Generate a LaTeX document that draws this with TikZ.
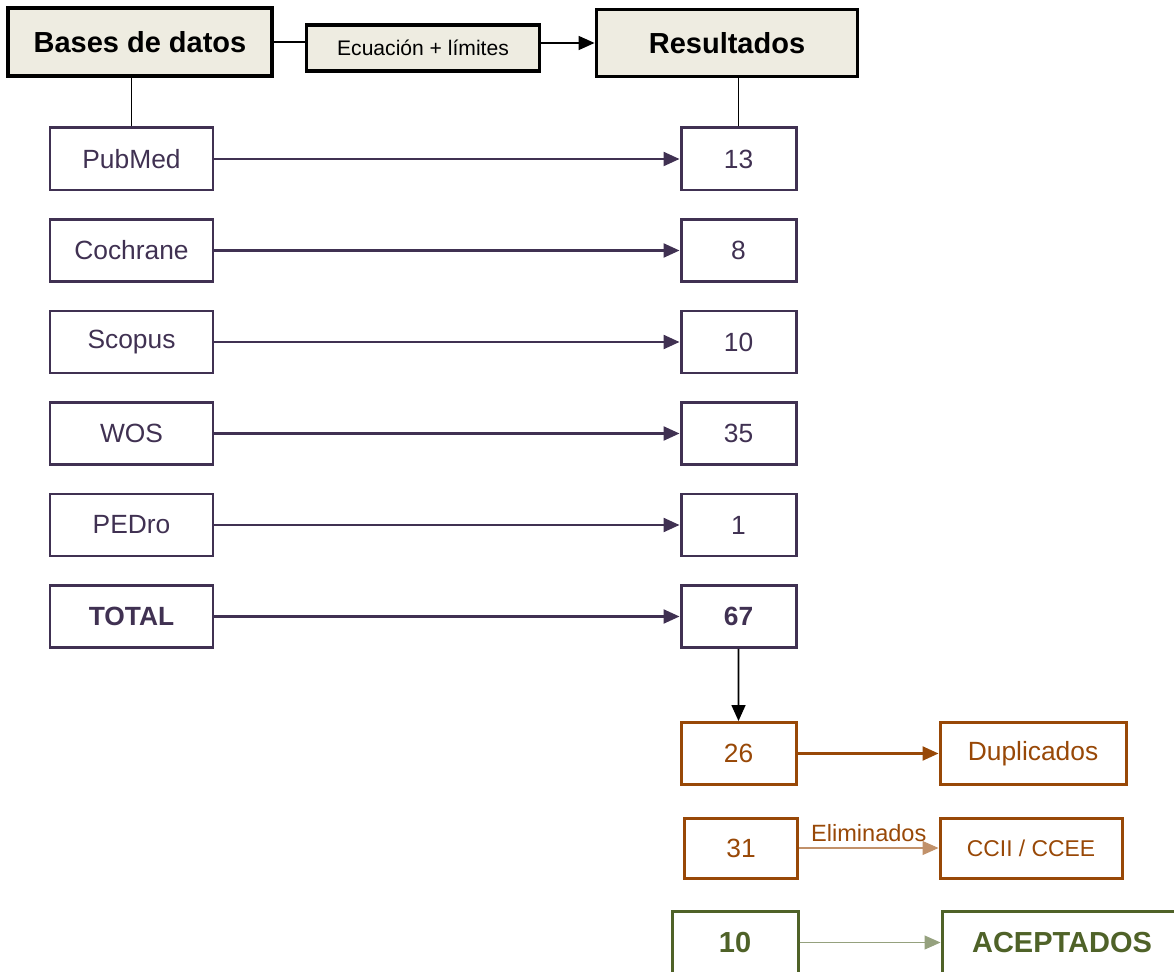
\documentclass[tikz,border=0pt]{standalone}
\usepackage{fontspec}
\setmainfont{Liberation Sans}
\usepackage{tikz}
\usetikzlibrary{arrows.meta,positioning}
\definecolor{morado}{HTML}{403152}
\definecolor{naranja}{HTML}{984807}
\definecolor{oliva}{HTML}{4F6228}
\definecolor{beige}{HTML}{EEECE1}

\begin{document}
\begin{tikzpicture}[top block/.style={draw=black, fill=beige, line width=2.2pt, rectangle, align=center, font=\fontsize{16.5}{19}\selectfont\bfseries}, db block/.style={draw=morado, line width=1.7pt, rectangle, minimum width=3.26cm, minimum height=1.24cm, text=morado, font=\fontsize{15}{18}\selectfont}, num block/.style={db block, minimum width=2.30cm}, el block/.style={draw=naranja, line width=1.7pt, rectangle, minimum height=1.24cm, text=naranja, font=\fontsize{15}{18}\selectfont}, ok block/.style={draw=oliva, line width=1.7pt, rectangle, minimum height=1.24cm, text=oliva, font=\fontsize{16.5}{19}\selectfont\bfseries}, flecha/.style={-{Triangle[length=0.32cm,width=0.28cm]}, line width=1.3pt}, node distance=1.83cm]
    \useasboundingbox (0,0) rectangle (23.48,-19.44);
    \clip (0,0) rectangle (23.48,-19.44);

    \node[top block, minimum width=5.28cm, minimum height=1.36cm] (bases) at (2.80,-0.84) {Bases de datos};
    \node[top block, minimum width=4.66cm, minimum height=0.92cm, font=\fontsize{12}{14}\selectfont] (ecu) at (8.46,-0.96) {Ecuación + límites};
    \node[top block, minimum width=5.22cm, minimum height=1.34cm] (res) at (14.54,-0.86) {Resultados};

    \node[db block] (pub) at (2.63,-3.18) {PubMed};
    \node[db block, below of=pub] (coch) {Cochrane};
    \node[db block, below of=coch] (scop) {Scopus};
    \node[db block, below of=scop] (wos) {WOS};
    \node[db block, below of=wos] (pedro) {PEDro};
    \node[db block, below of=pedro, font=\fontsize{15}{18}\selectfont\bfseries] (total) {TOTAL};

    \node[num block, right of=pub, node distance=12.14cm] (n13) {13};
    \node[num block, right of=coch, node distance=12.14cm] (n8) {8};
    \node[num block, right of=scop, node distance=12.14cm] (n10a) {10};
    \node[num block, right of=wos, node distance=12.14cm] (n35) {35};
    \node[num block, right of=pedro, node distance=12.14cm] (n1) {1};
    \node[num block, right of=total, node distance=12.14cm, font=\fontsize{15}{18}\selectfont\bfseries] (n67) {67};

    \node[el block, minimum width=2.30cm] (n26) at (14.77,-15.07) {26};
    \node[el block, minimum width=3.72cm] (dup) at (20.66,-15.07) {Duplicados};
    \node[el block, minimum width=2.26cm, minimum height=1.20cm] (n31) at (14.82,-16.96) {31};
    \node[el block, minimum width=3.64cm, minimum height=1.20cm, font=\fontsize{13}{16}\selectfont] (cc) at (20.62,-16.96) {CCII / CCEE};
    \node[ok block, minimum width=2.52cm] (n10) at (14.70,-18.85) {10};
    \node[ok block, minimum width=4.80cm] (acep) at (21.24,-18.85) {ACEPTADOS};

    \draw[line width=0.9pt] (bases.east) -- (bases.east -| ecu.west);
    \draw[flecha, line width=0.9pt] (ecu.east |- res.west) -- (res.west);
    \draw[line width=0.9pt] (pub.north) -- (pub.north |- bases.south);
    \draw[line width=0.9pt] (n13.north) -- (n13.north |- res.south);

    \draw[flecha, morado] (pub) -- (n13);
    \draw[flecha, morado] (coch) -- (n8);
    \draw[flecha, morado] (scop) -- (n10a);
    \draw[flecha, morado] (wos) -- (n35);
    \draw[flecha, morado] (pedro) -- (n1);
    \draw[flecha, morado] (total) -- (n67);

    \draw[flecha, line width=0.9pt] (n67) -- (n26);
    \draw[flecha, naranja] (n26) -- (dup);
    \draw[flecha, naranja!60, line width=0.6pt] (n31) -- node[above, text=naranja, font=\fontsize{13.4}{16}\selectfont, inner sep=3pt] {Eliminados} (cc);
    \draw[flecha, oliva!60, line width=0.6pt] (n10) -- (acep);
\end{tikzpicture}
\end{document}
